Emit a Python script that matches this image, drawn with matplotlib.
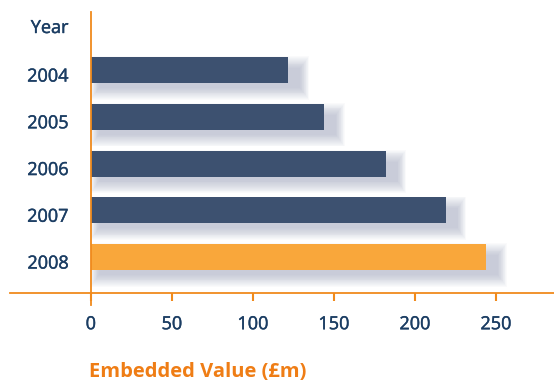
import matplotlib.pyplot as plt
import matplotlib.patheffects as pe

plt.rcParams['font.family'] = ['Open Sans', 'DejaVu Sans']

# Data
years = ["2004", "2005", "2006", "2007", "2008"]
values = [122, 144, 182, 219, 244]
xticks = [0, 50, 100, 150, 200, 250]

NAVY = "#3d5170"
HIGHLIGHT = "#f9a73b"
AXIS_ORANGE = "#f08a1c"
TEXT_NAVY = "#1b3d63"
LABEL_ORANGE = "#ef7d15"
SHADOW = "#8e95b0"

W, H = 554, 381
fig = plt.figure(figsize=(W / 100, H / 100), dpi=100)
# axes spans px 10..554 horizontally, px 12..293 from the top
ax = fig.add_axes([10 / W, (H - 293) / H, 544 / W, 281 / H])

px_per_unit = 1.62
ax.set_xlim(-80.8 / px_per_unit, (W - 90.8) / px_per_unit)
row_px = 46.75
top = -(70 - 12) / row_px
ax.set_ylim(top + 281 / row_px, top)

bar_h = 26 / row_px
colors = [NAVY] * (len(years) - 1) + [HIGHLIGHT]
pos = list(range(len(years)))

# soft drop shadow: stacked translucent rectangles
dx = 4 / px_per_unit
dy = 8 / row_px
for k in range(14):
    gx = k * 1.3
    gy = k * 1.8
    ax.barh([p + dy for p in pos], [v + dx + gx / px_per_unit for v in values],
            left=8 / px_per_unit - gx / px_per_unit / 2,
            height=bar_h - 6 / row_px + gy / row_px, color=SHADOW, alpha=0.038,
            linewidth=0, zorder=1)

ax.barh(pos, values, height=bar_h, color=colors, linewidth=0, zorder=3)

for s in ["top", "right", "left"]:
    ax.spines[s].set_visible(False)
ax.spines["bottom"].set_color(AXIS_ORANGE)
ax.spines["bottom"].set_linewidth(1.3)

ax.axvline(0, ymin=-0.043, ymax=1, color=AXIS_ORANGE, linewidth=1.3,
           clip_on=False, zorder=4)

# slightly heavier strokes for the navy labels
thick = [pe.withStroke(linewidth=0.3, foreground=TEXT_NAVY)]

ax.set_yticks([])
ax.set_xticks(xticks)
ax.set_xticklabels([str(t) for t in xticks])
ax.tick_params(axis="x", direction="out", length=6, width=1.5,
               color=AXIS_ORANGE, labelcolor=TEXT_NAVY, labelsize=13, pad=10)
for t in ax.get_xticklabels():
    t.set_path_effects(thick)

lab_x = -22.5 / px_per_unit
ax.text(lab_x, top + (28 - 12) / row_px, "Year", ha="right", va="center",
        fontsize=13, color=TEXT_NAVY, path_effects=thick)
for p, y in zip(pos, years):
    ax.text(lab_x, p + 0.14, y, ha="right", va="center",
            fontsize=13, color=TEXT_NAVY, path_effects=thick)

fig.text(89 / W, (H - 372) / H, "Embedded Value (£m)", ha="left", va="center",
         fontsize=14.5, fontweight="bold", color=LABEL_ORANGE)

fig.savefig("out.png", dpi=100)
